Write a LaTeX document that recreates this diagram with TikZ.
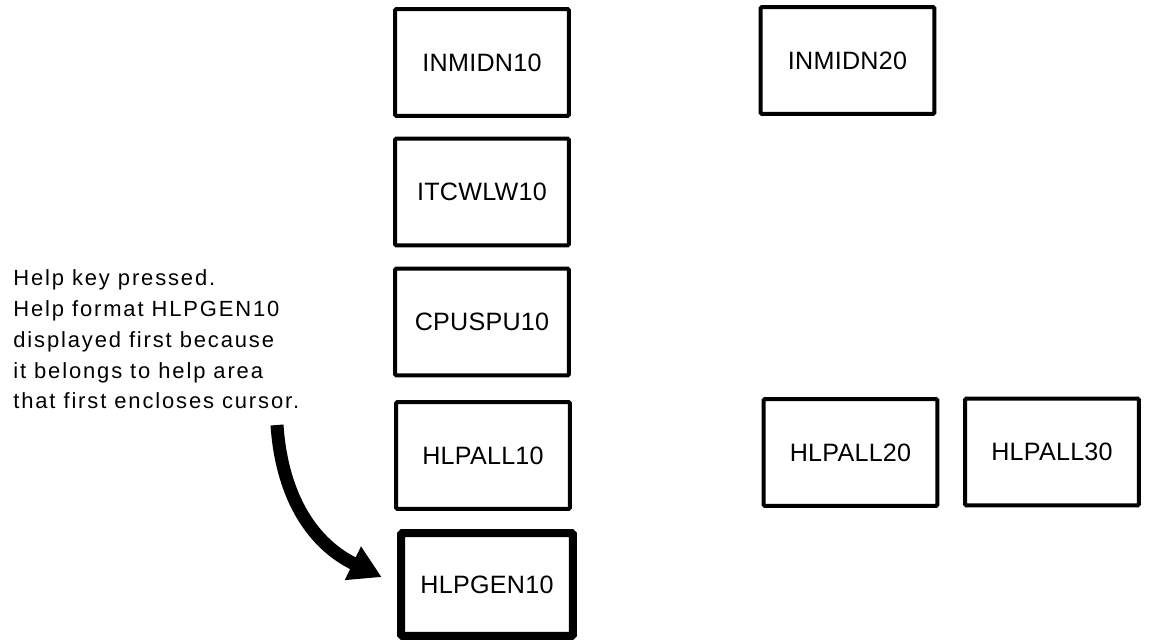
\documentclass[tikz,border=0pt]{standalone}
\usepackage{fontspec}
\setmainfont{Liberation Sans}
\newfontfamily\boxfont[LetterSpace=1]{Liberation Sans}
\newfontfamily\notefont[LetterSpace=8.5]{Liberation Sans}
\usetikzlibrary{arrows.meta}
\tikzset{
	frm/.style={draw,line width=0.08cm,rounded corners=0.03cm,minimum width=3.48cm,minimum height=2.14cm,inner sep=0pt,font=\boxfont\fontsize{14.3}{16}\selectfont},
	cur/.style={frm,line width=0.16cm,minimum width=3.44cm,minimum height=2.06cm}
}
\begin{document}
\begin{tikzpicture}[x=0.02cm,y=-0.02cm]
		\useasboundingbox (0,0) rectangle (1150,641);
		%格式
		\node[frm] (inmidn10) at (482,62.5) {INMIDN10};
		\node[frm] (itcwlw10) at (482,192) {ITCWLW10};
		\node[frm] (cpuspu10) at (482,322) {CPUSPU10};
		\node[frm] (hlpall10) at (483,455.5) {HLPALL10};
		\node[cur] (hlpgen10) at (487,584.5) {HLPGEN10};
		\node[frm] (inmidn20) at (847.5,60.5) {INMIDN20};
		\node[frm] (hlpall20) at (850.5,452.5) {HLPALL20};
		\node[frm] (hlpall30) at (1052,452) {HLPALL30};
		%说明
		\node[anchor=north west,align=left,inner sep=0pt,font=\notefont\fontsize{12.5}{17.6}\selectfont] (note) at (13,269) {Help key pressed.\\Help format HLPGEN10\\displayed first because\\it belongs to help area\\that first encloses cursor.};
		\coordinate (pk) at (277,425);
		\draw[line width=0.26cm,shorten >=0.34cm,-{Triangle[length=0.64cm,width=0.7cm]}] (pk) .. controls (282,500) and (315,545) .. (hlpgen10.west);
	\end{tikzpicture}
\end{document}
